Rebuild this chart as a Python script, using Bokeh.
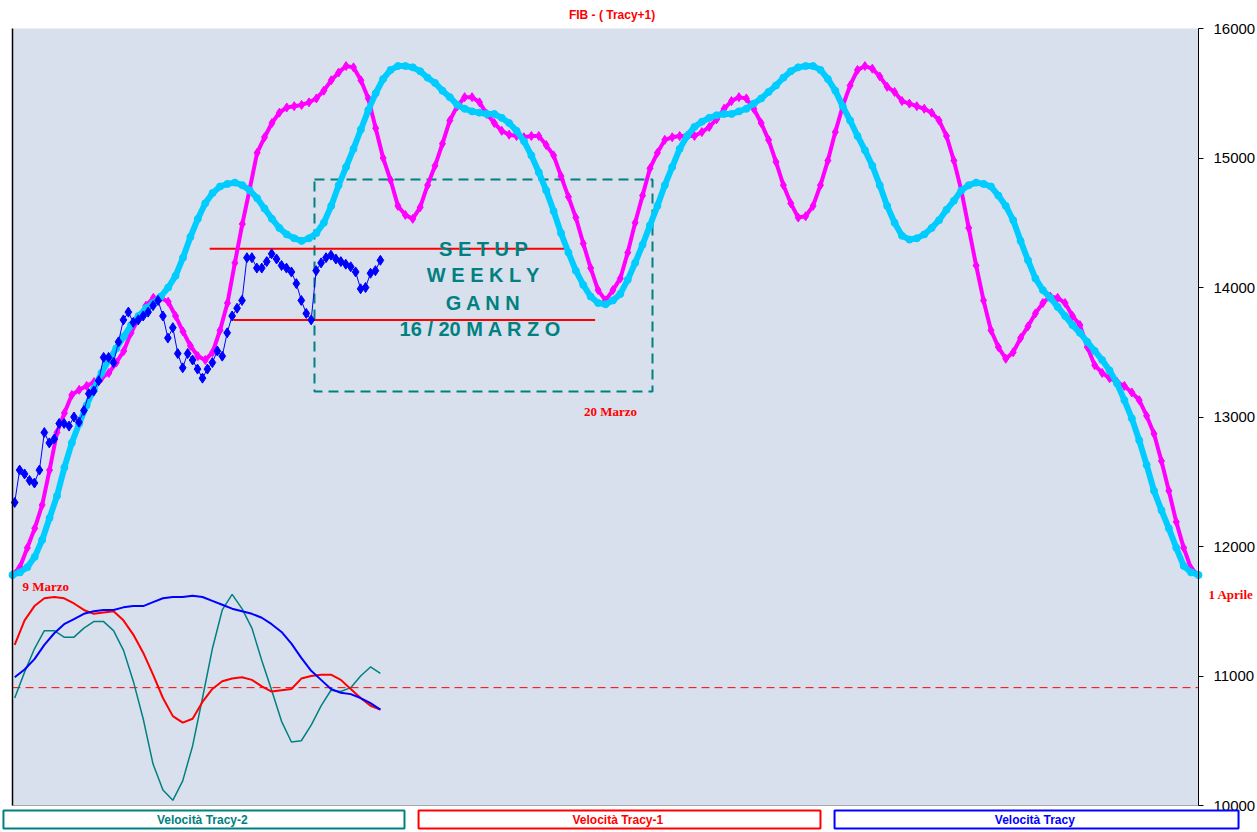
from bokeh.plotting import figure
from bokeh.models import Range1d, FixedTicker, Label, LinearAxis, BoxAnnotation
from bokeh.embed import file_html
from bokeh.resources import INLINE

# ---------------- data ----------------
title_text = "FIB  -  ( Tracy+1)"
y_ticks = [10000, 11000, 12000, 13000, 14000, 15000, 16000]

# cycle projections, one value every half step (index 0 .. 80)
cycle_t = [k / 2 for k in range(161)]
tracy1 = [11780, 11840, 11990, 12140, 12320, 12590, 12880, 13030, 13170, 13210,
          13240, 13270, 13300, 13340, 13420, 13510, 13650, 13760, 13860, 13920,
          13920, 13890, 13780, 13660, 13550, 13470, 13440, 13500, 13670, 13880,
          14190, 14490, 14760, 15040, 15160, 15270, 15350, 15390, 15400, 15410,
          15430, 15460, 15520, 15600, 15660, 15710, 15700, 15600, 15460, 15230,
          15000, 14830, 14630, 14560, 14530, 14620, 14790, 14940, 15110, 15290,
          15400, 15470, 15470, 15430, 15340, 15270, 15210, 15180, 15170, 15160,
          15170, 15170, 15100, 15020, 14860, 14700, 14540, 14340, 14150, 13980,
          13900,
          13980, 14070, 14270, 14500, 14710, 14920, 15040, 15140, 15160, 15170,
          15170, 15170, 15200, 15240, 15300, 15380, 15440, 15470, 15460, 15380,
          15270, 15140, 14970, 14790, 14650, 14540, 14550, 14630, 14790, 14980,
          15200, 15400, 15560, 15680, 15710, 15690, 15630, 15550, 15510, 15440,
          15420, 15400, 15380, 15350, 15290, 15170, 14980, 14750, 14460, 14170,
          13900, 13670, 13540, 13450, 13500, 13610, 13700, 13800, 13880, 13930,
          13920, 13880, 13780, 13710, 13540, 13400, 13340, 13300, 13270, 13240,
          13190, 13130, 13010, 12870, 12660, 12430, 12190, 11990, 11830, 11780]
tracy = [11780, 11800, 11840, 11920, 12050, 12220, 12390, 12610, 12800, 12950,
         13090, 13220, 13340, 13440, 13530, 13620, 13710, 13780, 13840, 13880,
         13930, 14000, 14090, 14230, 14390, 14530, 14650, 14730, 14780, 14800,
         14810, 14790, 14750, 14690, 14610, 14530, 14460, 14410, 14380, 14360,
         14380, 14420, 14500, 14630, 14790, 14930, 15070, 15220, 15370, 15500,
         15610, 15680, 15710, 15710, 15700, 15670, 15620, 15580, 15520, 15470,
         15410, 15380, 15360, 15350, 15340, 15340, 15310, 15270, 15210, 15130,
         15020, 14890, 14750, 14590, 14420, 14270, 14130, 14020, 13930, 13880,
         13870,
         13900, 13950, 14060, 14190, 14330, 14480, 14630, 14790, 14930, 15070,
         15170, 15240, 15280, 15310, 15330, 15340, 15340, 15360, 15380, 15420,
         15460, 15510, 15560, 15620, 15670, 15700, 15710, 15710, 15680, 15610,
         15520, 15400, 15290, 15170, 15060, 14940, 14790, 14630, 14500, 14400,
         14370, 14380, 14410, 14460, 14520, 14600, 14670, 14750, 14790, 14810,
         14800, 14780, 14710, 14630, 14520, 14360, 14210, 14070, 13980, 13920,
         13850, 13780, 13710, 13650, 13580, 13510, 13440, 13360, 13260, 13130,
         12990, 12820, 12630, 12430, 12280, 12140, 11990, 11850, 11800, 11780]

# price, one bar every 1/3 of a cycle step
price_t = [round(0.148 + k / 3, 3) for k in range(75)]
price = [12340, 12590, 12560, 12510, 12490, 12590, 12880, 12800, 12830, 12950,
         12950, 12930, 13000, 12960, 13050, 13180, 13200, 13280, 13460, 13460,
         13420, 13580, 13750, 13810, 13730, 13750, 13780, 13810, 13860, 13900,
         13780, 13610, 13690, 13490, 13380, 13490, 13440, 13370, 13300, 13370,
         13420, 13510, 13470, 13650, 13780, 13840, 13900, 14230, 14230, 14150,
         14150, 14200, 14260, 14220, 14170, 14150, 14120, 14030, 13900, 13800,
         13750, 14130, 14190, 14230, 14250, 14220, 14200, 14180, 14160, 14120,
         13990, 14000, 14110, 14130, 14210]

# velocity oscillators (drawn on the price scale, zero at vel_zero)
vel_t = [round(0.148 + 2 * j / 3, 3) for j in range(38)]
vel_tracy2 = [10830, 11030, 11210, 11350, 11350, 11300, 11300, 11370, 11420, 11420,
              11350, 11200, 10960, 10670, 10320, 10120, 10040, 10190, 10460, 10830,
              11210, 11510, 11630, 11520, 11370, 11120, 10890, 10650, 10490, 10500,
              10620, 10770, 10890, 10880, 10910, 11000, 11070, 11020]
vel_tracy1 = [11240, 11430, 11540, 11600, 11610, 11600, 11560, 11510, 11480, 11490,
              11500, 11430, 11320, 11180, 11010, 10830, 10690, 10640, 10670, 10800,
              10900, 10960, 10980, 10990, 10970, 10920, 10880, 10890, 10900, 10980,
              11000, 11010, 11010, 10970, 10900, 10830, 10770, 10740]
vel_tracy = [10990, 11050, 11130, 11240, 11330, 11400, 11440, 11480, 11500, 11510,
             11510, 11530, 11540, 11540, 11570, 11600, 11610, 11610, 11620, 11610,
             11580, 11550, 11520, 11500, 11480, 11450, 11400, 11340, 11250, 11140,
             11040, 10970, 10900, 10870, 10860, 10830, 10790, 10740]
vel_zero = 10910

# support / resistance lines: start index, end index, level
resist_x0 = [13.3, 14.9]
resist_x1 = [37.5, 39.3]
resist_y = [14300, 13750]

# setup window
box_left, box_right = [20.37], [43.17]
box_top, box_bottom = [14834], [13197]

setup_lines = ["S E T U P", "W E E K L Y", "G A N N", "16 / 20  M A R Z O"]
setup_x = 31.77
setup_y = [14300, 14093, 13884, 13683]

legend_names = ["Velocità  Tracy-2", "Velocità  Tracy-1", "Velocità  Tracy"]

# ---------------- style ----------------
MAG = "#ff00ff"
CYAN = "#00ccff"
BLUE = "#0000ff"
TEAL = "#008080"
RED = "#ff0000"
BG = "#d8e0ee"

X0, X1 = 0, 80          # index span of the chart area
Y0, Y1 = 10000, 16000   # value span of the chart area
PX_X = 1186 / (X1 - X0)
PX_Y = 777 / (Y1 - Y0)

p = figure(width=1257, height=832,
           x_range=Range1d(X0 - 12 / PX_X, X1 + 59 / PX_X),
           y_range=Range1d(Y0 - 27 / PX_Y, Y1 + 28 / PX_Y),
           x_axis_type=None, y_axis_type=None, output_backend="svg",
           toolbar_location=None, min_border=0)
p.background_fill_color = "white"
p.border_fill_color = "white"
p.outline_line_color = None

p.add_layout(BoxAnnotation(left=X0, right=X1, bottom=Y0, top=Y1, fill_color=BG,
                           fill_alpha=1, line_color=None, level="underlay"))

# price axis on the right edge of the chart area
ax = LinearAxis(fixed_location=X1, bounds=(Y0, Y1), ticker=FixedTicker(ticks=y_ticks))
ax.major_tick_out = 5
ax.major_tick_in = 0
ax.minor_tick_line_color = None
ax.axis_line_color = "black"
ax.major_tick_line_color = "black"
ax.major_label_text_font = "Liberation Sans"
ax.major_label_text_font_size = "15px"
ax.major_label_text_color = "black"
ax.major_label_standoff = 10
p.add_layout(ax, "right")

# left border and bottom border of the chart area
lb = LinearAxis(fixed_location=X0, bounds=(Y0, Y1), ticker=FixedTicker(ticks=[]),
                axis_line_color="black", axis_line_width=1.5,
                major_tick_line_color=None, minor_tick_line_color=None,
                major_label_text_font_size="0px")
p.add_layout(lb, "left")
bb = LinearAxis(fixed_location=Y0, bounds=(X0, X1), ticker=FixedTicker(ticks=[]),
                axis_line_color="#a8a8a8", major_tick_line_color=None,
                minor_tick_line_color=None, major_label_text_font_size="0px")
p.add_layout(bb, "below")

# zero line of the velocities
p.segment(x0=[X0], x1=[X1], y0=[vel_zero], y1=[vel_zero], line_color=RED,
          line_width=1, line_dash="8 5")

# velocities
p.line(vel_t, vel_tracy2, line_color=TEAL, line_width=1.5)
p.line(vel_t, vel_tracy1, line_color=RED, line_width=2)
p.line(vel_t, vel_tracy, line_color=BLUE, line_width=2)

# setup window and levels
p.quad(left=box_left, right=box_right, top=box_top, bottom=box_bottom,
       fill_alpha=0, line_color=TEAL, line_width=2, line_dash="10 6")
p.segment(x0=resist_x0, x1=resist_x1, y0=resist_y, y1=resist_y,
          line_color=RED, line_width=2)

# cycles
p.line(cycle_t, tracy1, line_color=MAG, line_width=4, line_join="round")
p.scatter(cycle_t, tracy1, marker="diamond", size=9, fill_color=MAG, line_color=MAG)
p.line(cycle_t, tracy, line_color=CYAN, line_width=6, line_join="round")
p.scatter(cycle_t, tracy, marker="circle", size=7, fill_color=CYAN, line_color=CYAN)

# price
p.line(price_t, price, line_color=BLUE, line_width=1)
p.scatter(price_t, price, marker="diamond", size=10, fill_color=BLUE, line_color=BLUE)

# texts
for txt, yy in zip(setup_lines, setup_y):
    p.add_layout(Label(x=setup_x, y=yy, text=txt, text_color=TEAL,
                       text_font="Liberation Sans", text_font_size="20px",
                       text_font_style="bold", text_align="center",
                       text_baseline="middle"))

p.add_layout(Label(x=40.34, y=13042, text="20 Marzo", text_color=RED,
                   text_font="Liberation Serif", text_font_size="13px",
                   text_font_style="bold", text_align="center", text_baseline="middle"))
p.add_layout(Label(x=0.67, y=11691, text="9 Marzo", text_color=RED,
                   text_font="Liberation Serif", text_font_size="13px",
                   text_font_style="bold", text_align="left", text_baseline="middle"))
p.add_layout(Label(x=80.67, y=11629, text="1 Aprile", text_color=RED,
                   text_font="Liberation Serif", text_font_size="13px",
                   text_font_style="bold", text_align="left", text_baseline="middle"))
p.add_layout(Label(x=40.67, y=16108, text=title_text, text_color=RED,
                   text_font="Liberation Sans", text_font_size="12px",
                   text_font_style="bold", text_align="center", text_baseline="middle"))

# legend strip under the chart
leg_colors = [TEAL, RED, BLUE]
leg_left = [-0.61, 27.39, 55.45]
leg_right = [26.44, 54.50, 82.70]
leg_top = Y0 - 5 / PX_Y
leg_bottom = Y0 - 23 / PX_Y
for l, r, c, name in zip(leg_left, leg_right, leg_colors, legend_names):
    p.add_layout(BoxAnnotation(left=l, right=r, top=leg_top, bottom=leg_bottom,
                               fill_color="white", fill_alpha=1, line_color=c,
                               line_alpha=1, line_width=2, level="annotation"))
    p.add_layout(Label(x=(l + r) / 2, y=(leg_top + leg_bottom) / 2, text=name,
                       text_color=c, text_font="Liberation Sans",
                       text_font_size="12px", text_font_style="bold",
                       text_align="center", text_baseline="middle"))

open("out.html", "w").write(file_html(p, INLINE))
